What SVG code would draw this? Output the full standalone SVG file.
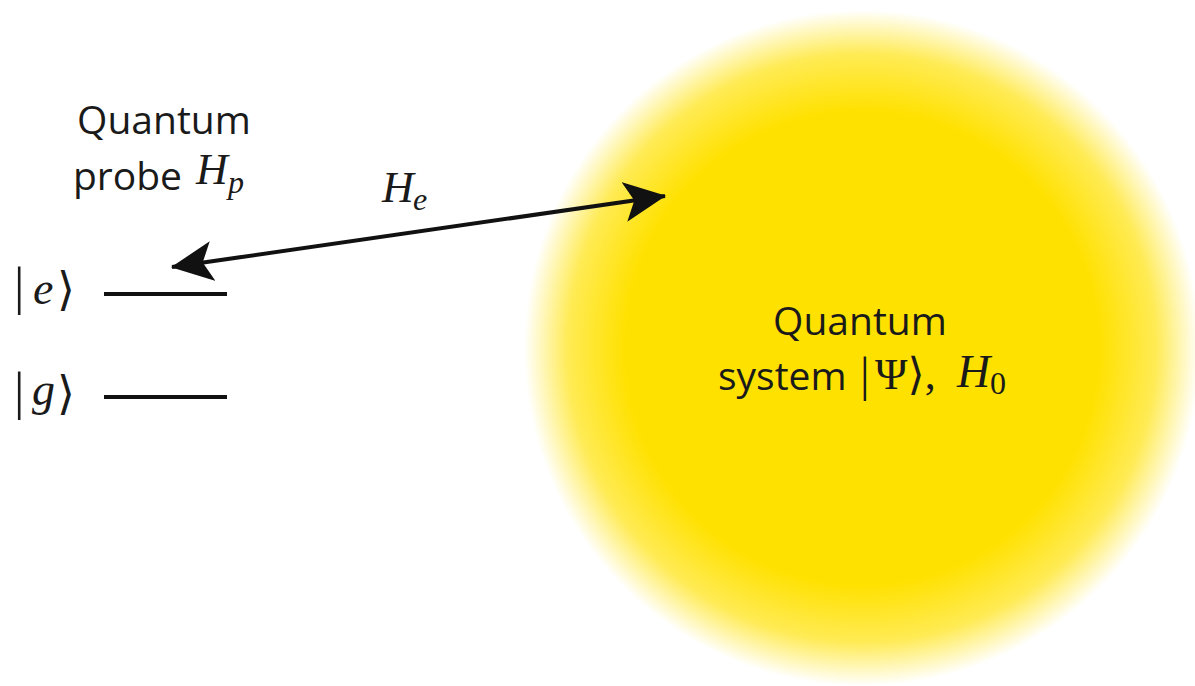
<svg xmlns="http://www.w3.org/2000/svg" width="1195" height="686" viewBox="0 0 1195 686">
<style>
.t{font-family:"Open Sans","Noto Sans",sans-serif;font-size:39px;fill:#1a1a1a}
.m{font-family:"Liberation Serif","DejaVu Serif",serif;font-style:italic;fill:#1a1a1a}
.r{font-family:"Liberation Serif","DejaVu Serif",serif;fill:#1a1a1a}
.lvl{stroke:#111;stroke-width:4}
.conn{stroke:#111;stroke-width:4;fill:none}
</style>
<defs>
<radialGradient id="glow" cx="0.5" cy="0.5" r="0.5">
<stop offset="0" stop-color="#FFE100"/>
<stop offset="0.7" stop-color="#FFE100"/>
<stop offset="0.87" stop-color="#FFEB55"/>
<stop offset="1" stop-color="#FFFFFF"/>
</radialGradient>
<marker id="ah" viewBox="0 0 42 40" refX="41" refY="20" markerWidth="42" markerHeight="40" markerUnits="userSpaceOnUse" orient="auto-start-reverse">
<path d="M0,0 L42,20 L0,40 L10,20 Z" fill="#111"/>
</marker>
</defs>
<rect width="1195" height="686" fill="#fff"/>
<g id="system">
<circle cx="862" cy="348" r="338" fill="url(#glow)"/>
<text class="t" x="860" y="335" text-anchor="middle">Quantum</text>
<text class="t" x="718" y="390">system</text>
<text class="r" font-size="48" x="860" y="391">|</text>
<text class="r" font-size="44" x="875" y="389">Ψ⟩,</text>
<text class="m" font-size="46" x="957" y="387">H</text>
<text class="r" font-size="32" x="990" y="394">0</text>
</g>
<g id="probe">
<text class="t" x="164" y="134" text-anchor="middle">Quantum</text>
<text class="t" x="73" y="190">probe</text>
<text class="m" font-size="44" x="196" y="184">H</text>
<text class="m" font-size="32" x="228" y="193">p</text>
<text class="r" font-size="52" x="14" y="304">|</text>
<text class="m" font-size="46" x="33" y="304">e</text>
<text class="r" font-size="46" x="57" y="305">⟩</text>
<line class="lvl" x1="104" y1="294" x2="227" y2="294"/>
<text class="r" font-size="52" x="14" y="409">|</text>
<text class="m" font-size="46" x="32" y="405">g</text>
<text class="r" font-size="46" x="57" y="409">⟩</text>
<line class="lvl" x1="104" y1="397" x2="227" y2="397"/>
</g>
<g id="connectors">
<line class="conn" x1="172" y1="267" x2="665" y2="196" marker-start="url(#ah)" marker-end="url(#ah)"/>
<text class="m" font-size="44" x="382" y="202">H</text>
<text class="m" font-size="32" x="413" y="210">e</text>
</g>
</svg>
